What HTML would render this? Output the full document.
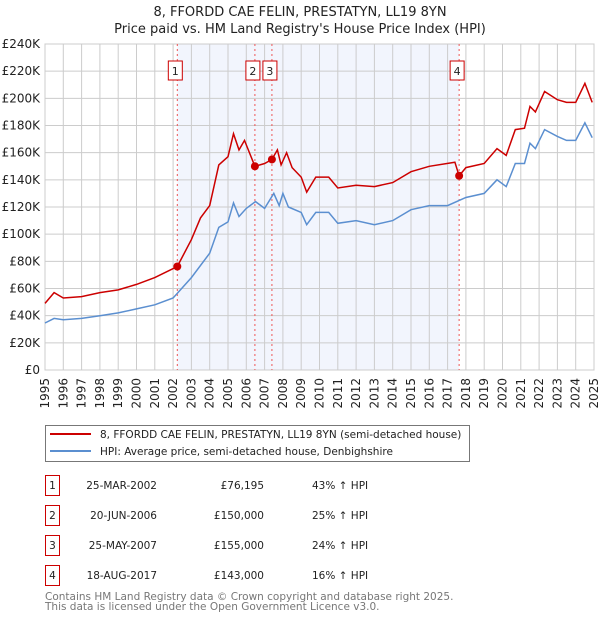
<!DOCTYPE html>
<html><head><meta charset="utf-8">
<style>
body{margin:0;background:#fff;font-family:"DejaVu Sans","Liberation Sans",sans-serif;}
#wrap{position:relative;width:600px;height:620px;overflow:hidden;}
svg text{font-family:"DejaVu Sans","Liberation Sans",sans-serif;}
</style></head>
<body><div id="wrap">
<svg id="chart" width="600" height="620" xmlns="http://www.w3.org/2000/svg"></svg>
</div>
<script>
const hpiYears=[1995,1995.5,1996,1997,1998,1999,2000,2001,2002,2003,2004,2004.5,2005,2005.3,2005.6,2006,2006.5,2007,2007.5,2007.8,2008,2008.3,2009,2009.3,2009.8,2010.5,2011,2012,2013,2014,2015,2016,2017,2018,2019,2019.7,2020.2,2020.7,2021.2,2021.5,2021.8,2022.3,2023,2023.5,2024,2024.5,2024.9];
const hpiValues=[34.6,38,37,38,40,42,45,48,53,68,86,105,109,123,113,119,124,119,130,121,130,120,116,107,116,116,108,110,107,110,118,121,121,127,130,140,135,152,152,167,163,177,172,169,169,182,171];
const priceYears=[1995,1995.5,1996,1997,1998,1999,2000,2001,2002.23,2003,2003.5,2004,2004.5,2005,2005.3,2005.6,2005.9,2006.47,2007,2007.4,2007.7,2007.9,2008.2,2008.5,2009,2009.3,2009.8,2010.5,2011,2012,2013,2014,2015,2016,2017.4,2017.63,2018,2019,2019.7,2020.2,2020.7,2021.2,2021.5,2021.8,2022.3,2023,2023.5,2024,2024.5,2024.9];
const priceValues=[49,57,53,54,57,59,63,68,76.195,96,112,121,151,157,174,162,169,150,152,155,162,151,160,149,142,131,142,142,134,136,135,138,146,150,153,143,149,152,163,158,177,178,194,190,205,199,197,197,211,197];
const saleYears=[2002.23,2006.47,2007.4,2017.63];
const saleValues=[76.195,150,155,143];
const saleLabels=["1","2","3","4"];
const yTicks=[0,20,40,60,80,100,120,140,160,180,200,220,240];
const xTicks=[1995,1996,1997,1998,1999,2000,2001,2002,2003,2004,2005,2006,2007,2008,2009,2010,2011,2012,2013,2014,2015,2016,2017,2018,2019,2020,2021,2022,2023,2024,2025];

const L=45,R=594,T=44,B=370;
const X=y=>L+(y-1995)/30*(R-L);
const Y=v=>B-v/240*(B-T);
const S=document.getElementById('chart');
const NS='http://www.w3.org/2000/svg';
function mk(tag,attrs,parent){const e=document.createElementNS(NS,tag);for(const k in attrs)e.setAttribute(k,attrs[k]);(parent||S).appendChild(e);return e;}

let t=mk('text',{x:300,y:16,'text-anchor':'middle','font-size':'13',fill:'#222'});t.textContent='8, FFORDD CAE FELIN, PRESTATYN, LL19 8YN';


t=mk('text',{x:300,y:33,'text-anchor':'middle','font-size':'13',fill:'#222'});t.textContent="Price paid vs. HM Land Registry's House Price Index (HPI)";



let sh=mk('rect',{x:X(saleYears[0]),y:T,width:X(saleYears[3])-X(saleYears[0]),height:B-T,fill:'#f2f5fd'});



const g=mk('g',{stroke:'#cccccc','stroke-width':'1'});


yTicks.forEach(v=>{mk('line',{x1:L,x2:R,y1:Y(v),y2:Y(v)},g);
 const tx=mk('text',{x:L-5,y:Y(v)+4,'text-anchor':'end','font-size':'12',fill:'#222'});tx.textContent=v===0?'£0':'£'+v+'K';
 
 });
xTicks.forEach(v=>{mk('line',{x1:X(v),x2:X(v),y1:T,y2:B},g);
 const tx=mk('text',{x:X(v)+4,y:B+8,'text-anchor':'end','font-size':'12',fill:'#222',transform:`rotate(-90 ${X(v)+4} ${B+8})`});
 tx.textContent=v;
 
 });
mk('rect',{x:L,y:T,width:R-L,height:B-T,fill:'none',stroke:'#cccccc'});

saleYears.forEach((y,i)=>{
 const ln=mk('line',{x1:X(y),x2:X(y),y1:T,y2:B,stroke:'#ee5555','stroke-width':'1','stroke-dasharray':'2,3'});
 
 
 const bx=mk('rect',{x:X(y)-9,y:61,width:14,height:19,fill:'#fff',stroke:'#cc0000'});
 
 
 const tx=mk('text',{x:X(y)-2,y:75,'text-anchor':'middle','font-size':'11',fill:'#222'});tx.textContent=saleLabels[i];
 
 
});

function path(xs,vs){return xs.map((x,i)=>(i?'L':'M')+X(x).toFixed(1)+','+Y(vs[i]).toFixed(1)).join('');}
let p=mk('path',{d:path(hpiYears,hpiValues),fill:'none',stroke:'#5b8fd0','stroke-width':'1.5'});


p=mk('path',{d:path(priceYears,priceValues),fill:'none',stroke:'#cc0000','stroke-width':'1.5'});


saleYears.forEach((y,i)=>{const c=mk('circle',{cx:X(y),cy:Y(saleValues[i]),r:4,fill:'#cc0000'});
 
 });

const lg=mk('g',{});


mk('rect',{x:45.5,y:425.5,width:424,height:36,fill:'#fff',stroke:'#777'},lg);
mk('line',{x1:50,x2:91,y1:434,y2:434,stroke:'#cc0000','stroke-width':'2'},lg);
mk('line',{x1:50,x2:91,y1:451,y2:451,stroke:'#5b8fd0','stroke-width':'2'},lg);
t=mk('text',{x:100,y:438,'font-size':'10.5',fill:'#222'},lg);t.textContent='8, FFORDD CAE FELIN, PRESTATYN, LL19 8YN (semi-detached house)';


t=mk('text',{x:100,y:455,'font-size':'10.5',fill:'#222'},lg);t.textContent='HPI: Average price, semi-detached house, Denbighshire';



const dates=['25-MAR-2002','20-JUN-2006','25-MAY-2007','18-AUG-2017'];
const prices=['£76,195','£150,000','£155,000','£143,000'];
const pct=['43% ↑ HPI','25% ↑ HPI','24% ↑ HPI','16% ↑ HPI'];
dates.forEach((d,i)=>{const y0=475+i*30;
 const r=mk('rect',{x:45.5,y:y0+0.5,width:14,height:20,fill:'#fff',stroke:'#cc0000'});
 
 
 let tx=mk('text',{x:52.5,y:y0+14,'text-anchor':'middle','font-size':'10.5',fill:'#222'});tx.textContent=saleLabels[i];
 
 
 tx=mk('text',{x:157,y:y0+14,'text-anchor':'end','font-size':'10.5',fill:'#222'});tx.textContent=d;
 
 
 tx=mk('text',{x:264,y:y0+14,'text-anchor':'end','font-size':'10.5',fill:'#222'});tx.textContent=prices[i];
 
 
 tx=mk('text',{x:312,y:y0+14,'font-size':'10.5',fill:'#222'});tx.textContent=pct[i];
 
 
});
t=mk('text',{x:45,y:600,'font-size':'10.5',fill:'#777'});t.textContent='Contains HM Land Registry data © Crown copyright and database right 2025.';


t=mk('text',{x:45,y:610,'font-size':'10.5',fill:'#777'});t.textContent='This data is licensed under the Open Government Licence v3.0.';


</script>
</body></html>
